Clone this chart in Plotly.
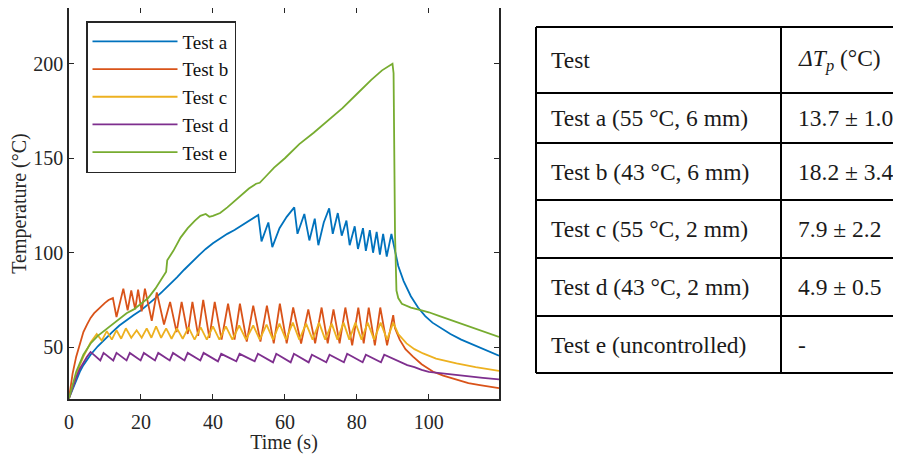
import plotly.graph_objects as go

# ---------------- data ----------------
series_names = ["Test a", "Test b", "Test c", "Test d", "Test e"]
series_colors = ["#0072BD", "#D95319", "#EDB120", "#7E2F8E", "#77AC30"]

time_a = [0, 1, 2, 3, 4, 6, 8, 10, 12, 14, 16, 18, 20, 22, 24, 26, 28, 30, 32, 34, 36, 38, 40,
          42, 44, 46, 48, 50, 52.6, 53.5, 55.4, 56.5, 58.5, 60.5, 62.6, 63.5, 65.4, 66.8, 68.3,
          69.3, 70.8, 72.3, 73.3, 74.7, 75.8, 77.1, 78.0, 79.4, 80.3, 81.7, 82.5, 83.6, 84.5,
          85.5, 86.4, 87.3, 88.3, 89.6, 90.3, 91.5, 93, 95, 97, 99, 101, 103, 106, 109, 112,
          115, 117, 119.5]
temp_a = [23, 28, 33, 37, 40.5, 46, 50.5, 54.5, 58, 61.5, 64.5, 67, 69.5, 72.5, 76, 79.5, 83,
          87, 91, 95, 98.5, 102, 105, 107.5, 110, 112, 114.5, 117, 120, 106, 116, 103, 113, 119,
          124, 110, 120.5, 106.5, 118, 104, 116, 123.5, 110, 121, 109, 117, 104, 114, 102, 113,
          101, 112, 100, 111, 99, 110, 98, 110, 104, 93, 85, 77, 71, 66.5, 63, 60.5, 57, 54,
          51.5, 49, 47.5, 45.5]

time_b = [0, 1, 2, 3, 4, 5, 6, 7, 8, 9, 10, 11, 12.2, 13.2, 15.1, 16.3, 17.3, 18.4, 19.2, 20.2,
          21.1, 23.0, 24.4, 26.4, 28.1, 29.9, 31.3, 33.0, 34.3, 35.9, 37.3, 39.0, 40.5, 42.4,
          44.2, 46.0, 47.5, 49.4, 51.2, 53.2, 55.0, 56.9, 58.6, 60.5, 62.3, 64.5, 66.5, 68.4,
          70.2, 71.9, 73.5, 75.2, 76.8, 78.7, 80.4, 81.9, 83.3, 85.0, 86.5, 88.4, 90.1, 90.6,
          91.9, 93.5, 95.6, 98, 101.2, 104, 107.7, 111, 114.2, 117, 119.5]
temp_b = [23, 36, 45, 52, 58, 62, 65.5, 68, 70, 72, 73.5, 75, 76, 66, 81, 69.5, 80, 70, 80.5,
          69, 81, 64, 79, 62, 74, 58, 74, 57, 74, 56, 75, 55, 74, 54, 73, 54, 73, 53, 72, 53,
          72, 52, 73, 52, 71, 52, 70, 52, 71, 52, 70, 52, 71, 51, 71, 52, 71, 51, 71, 51, 67,
          60, 54, 49, 45, 41, 37, 35, 32.7, 31, 30, 29, 28.3]

time_c = [0, 1, 2, 3, 4, 5, 6, 7.7, 9.1, 10.5, 11.9, 13.2, 14.5, 15.8, 17.3, 18.8, 20.2, 21.6,
          22.9, 24.2, 25.6, 27.0, 28.5, 30.0, 31.6, 33.2, 34.9, 36.6, 38.3, 40.0, 41.8, 43.6,
          45.4, 47.3, 49.2, 51.2, 53.0, 54.9, 56.7, 58.5, 60.3, 62.2, 64.0, 65.9, 67.7, 69.5,
          71.2, 73.0, 74.6, 76.3, 77.9, 79.6, 81.3, 83.0, 84.8, 86.6, 88.4, 90.1, 91.5, 93.8,
          96, 98.4, 102, 107.7, 113, 119.5]
temp_c = [23, 29, 35, 40.5, 45, 49, 52.5, 57, 53.5, 58.5, 54, 59, 54.5, 60, 55, 59, 55, 60,
          55, 61, 55, 60, 54.5, 60, 54.5, 60.5, 54, 60.5, 54, 61, 54, 61, 54, 61.5, 54, 61.5,
          54, 62, 54, 62.5, 54, 63, 54, 62.5, 54, 63, 54, 62.5, 54, 63, 54, 63, 54, 63, 54, 63,
          54, 63, 57, 52, 49, 46.7, 44, 41.5, 39.5, 37.5]

time_d = [0, 1, 2, 3, 4, 5, 6.0, 8.7, 9.6, 12.3, 13.2, 16.0, 16.9, 19.9, 20.8, 23.9, 24.8, 28.0,
          28.9, 32.1, 33.0, 36.5, 37.4, 41.4, 42.3, 46.5, 47.4, 51.6, 52.5, 56.7, 57.6, 61.6,
          62.5, 66.6, 67.5, 71.5, 72.4, 76.4, 77.3, 81.6, 82.5, 86.7, 87.6, 90, 92, 94, 96, 98,
          100, 103, 106, 109, 112, 115, 119.5]
temp_d = [23, 29, 34, 38.5, 42, 45, 47.5, 43, 47, 43, 47, 43, 47, 43, 47, 43, 47, 43, 47, 43,
          47, 43, 47, 42.5, 46.5, 42.5, 46.5, 42.5, 46.5, 42, 46.5, 42, 46.5, 42, 46, 42, 46,
          42, 46.5, 42, 46, 42, 46, 44, 42, 40.5, 39.5, 38, 37, 36.3, 35.6, 35, 34.4, 33.8, 33]

time_e = [0, 2, 4, 6, 8, 10, 12, 14, 16, 18, 20, 22, 24, 26, 27, 27.3, 29, 31, 33, 35, 36.5, 38,
          39, 40, 42, 44, 46, 48, 50, 52, 53, 55, 57, 60, 64, 68, 72, 76, 80, 84, 87, 89, 89.9,
          90.2, 90.6, 91.0, 91.5, 92.5, 95, 98, 100, 103, 106, 109, 112, 115, 117, 119.5]
temp_e = [23, 37, 46, 52, 56, 59, 62, 65, 68, 70, 73, 76, 81, 87, 90, 96, 101, 108, 113, 117,
          119.5, 120.5, 119, 119.5, 121, 124, 127.5, 131, 134, 136.5, 137, 141, 145, 150, 157.5,
          163.5, 170, 176.5, 184, 191.5, 196.5, 199, 200, 195, 110, 80, 76, 73, 71, 69.5, 68.5,
          66.5, 64.5, 62.5, 60.5, 58.5, 57, 55.5]

x_ticks = [0, 20, 40, 60, 80, 100]
y_ticks = [50, 100, 150, 200]
x_label = "Time (s)"
y_label = "Temperature (°C)"

table_header = ["Test", "<i>ΔT</i><sub><i>p</i></sub> (°C)"]
table_tests = ["Test a (55 °C, 6 mm)", "Test b (43 °C, 6 mm)", "Test c (55 °C, 2 mm)",
               "Test d (43 °C, 2 mm)", "Test e (uncontrolled)"]
table_dtp = ["13.7 ± 1.0", "18.2 ± 3.4", "7.9 ± 2.2", "4.9 ± 0.5", "-"]

# ---------------- layout constants (page pixels) ----------------
OFF = 8                      # default page body margin
W, H = 901 - OFF, 454 - OFF  # figure size
PL, PR, PT, PB = 69, 499, 7, 399   # plot area edges on the page
FL, FR, FT, FB = PL - OFF, PR - OFF, max(PT - OFF, 0), PB - OFF


def fx(px):
    return (px - OFF - FL) / (FR - FL)


def fy(py):
    return (FB - (py - OFF)) / (FB - FT)


series = [(time_a, temp_a), (time_b, temp_b), (time_c, temp_c), (time_d, temp_d), (time_e, temp_e)]

fig = go.Figure()
for (t, v), name, col in zip(series, series_names, series_colors):
    fig.add_trace(go.Scatter(x=t, y=v, mode="lines", name=name,
                             line=dict(color=col, width=1.8)))

AX = "#262626"
FONT = "Liberation Serif"
axis_common = dict(showgrid=False, zeroline=False, showline=True, linecolor=AX, linewidth=1.5,
                   mirror="ticks", ticks="inside", ticklen=5, tickwidth=1.2, tickcolor=AX,
                   tickfont=dict(family=FONT, size=20, color=AX),
                   title_font=dict(family=FONT, size=20, color=AX))

fig.update_xaxes(range=[0, 119.5], tickvals=x_ticks, title_text=x_label,
                 ticklabelstandoff=4, title_standoff=0, **axis_common)
fig.update_yaxes(range=[22.6, 229.5], tickvals=y_ticks, title_text=y_label,
                 title_standoff=3, **axis_common)

shapes = []
annotations = []
# table grid
row_lines = [27, 93, 143, 200, 258, 316, 373]
TL, TM, TR = 536, 781, 905
for ry in row_lines:
    shapes.append(dict(type="line", xref="paper", yref="paper", x0=fx(TL), x1=fx(TR),
                       y0=fy(ry), y1=fy(ry), line=dict(color="black", width=2)))
for cx in (TL, TM):
    shapes.append(dict(type="line", xref="paper", yref="paper", x0=fx(cx), x1=fx(cx),
                       y0=fy(row_lines[0]), y1=fy(row_lines[-1]), line=dict(color="black", width=2)))

TFONT = dict(family=FONT, size=23.5, color="#1a1a1a")
row_centers = [(row_lines[i] + row_lines[i + 1]) / 2 for i in range(len(row_lines) - 1)]
col_x = [549, 796]
cells = [table_header] + [[a, b] for a, b in zip(table_tests, table_dtp)]
for rc, row in zip(row_centers, cells):
    for cx, txt in zip(col_x, row):
        annotations.append(dict(text=txt, xref="paper", yref="paper", x=fx(cx), y=fy(rc),
                                xanchor="left", yanchor="middle", showarrow=False, font=TFONT))

fig.update_layout(
    width=W, height=H,
    margin=dict(l=FL, r=W - FR, t=FT, b=H - FB, autoexpand=False),
    paper_bgcolor="white", plot_bgcolor="white",
    font=dict(family=FONT, size=20, color=AX),
    showlegend=True,
    legend=dict(x=fx(86), y=fy(21), xanchor="left", yanchor="top",
                bordercolor=AX, borderwidth=1.5, bgcolor="white",
                font=dict(family=FONT, size=19, color="#111"),
                itemwidth=85, tracegroupgap=0),
    shapes=shapes, annotations=annotations,
)

fig.write_html("out.html")
